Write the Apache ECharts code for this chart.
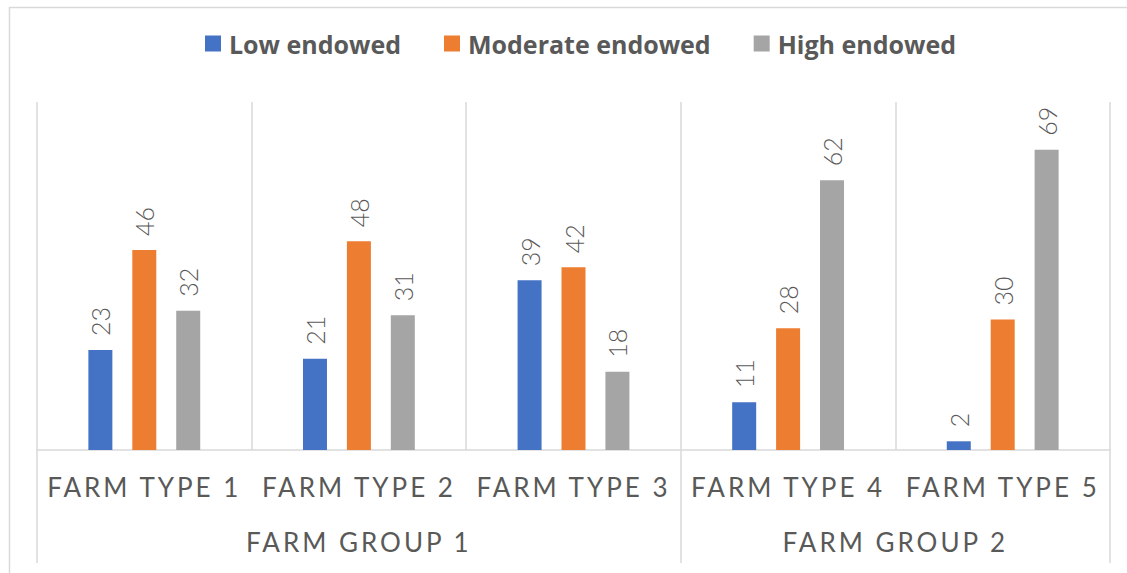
<!DOCTYPE html>
<html>
<head>
<meta charset="utf-8">
<script src="https://cdn.jsdelivr.net/npm/echarts@6/dist/echarts.min.js"></script>
<style>
  html, body { margin: 0; padding: 0; background: #ffffff; }
  #chart { width: 1127px; height: 573px; }
  /* spaced-out capitals on the category axis labels */
  #chart text[fill="#595958"] { letter-spacing: 3px; }
</style>
</head>
<body>
<div id="chart"></div>
<script>
// Farm types along the axis, and the farm groups they belong to
const farmTypes = ['FARM TYPE 1', 'FARM TYPE 2', 'FARM TYPE 3', 'FARM TYPE 4', 'FARM TYPE 5'];
const farmGroups = ['FARM GROUP 1', 'FARM GROUP 2'];
const typesPerGroup = [3, 2];

// Share of households per endowment class (%)
const lowEndowed = [23, 21, 39, 11, 2];
const moderateEndowed = [46, 48, 42, 28, 30];
const highEndowed = [32, 31, 18, 62, 69];

const seriesNames = ['Low endowed', 'Moderate endowed', 'High endowed'];
const seriesColors = ['#4472C4', '#ED7D31', '#A5A5A5'];

const gridLine = '#d9d9d9';
const textColor = '#595959';

// group boundaries and centres in "type" units along the axis
const groupEdges = [0];
typesPerGroup.forEach((n, i) => groupEdges.push(groupEdges[i] + n));
const groupCentres = typesPerGroup.map((n, i) => groupEdges[i] + n / 2);

const chart = echarts.init(document.getElementById('chart'), null, { renderer: 'svg' });

function barSeries(name, values, color) {
  return {
    name: name,
    type: 'bar',
    xAxisIndex: 0,
    yAxisIndex: 0,
    data: values,
    barWidth: 24,
    barGap: '83%',
    itemStyle: { color: color },
    label: {
      show: true,
      position: 'top',
      rotate: 90,
      align: 'left',
      verticalAlign: 'middle',
      distance: 14,
      color: textColor,
      fontFamily: 'Lato',
      fontWeight: 300,
      fontSize: 25
    }
  };
}

chart.setOption({
  animation: false,
  backgroundColor: '#ffffff',
  graphic: [{
    type: 'rect',
    left: 7,
    top: 5,
    shape: { width: 1300, height: 700 },
    style: { fill: 'none', stroke: gridLine, lineWidth: 1.5 },
    silent: true
  }],
  legend: {
    data: seriesNames,
    left: 205,
    top: 31,
    padding: 0,
    icon: 'rect',
    itemWidth: 16,
    itemHeight: 16,
    itemGap: 43,
    textStyle: {
      color: textColor,
      fontFamily: 'Open Sans',
      fontWeight: 'bold',
      fontSize: 25,
      padding: [0, 0, 0, 3]
    }
  },
  grid: { left: 37, right: 17, top: 102, bottom: 123, containLabel: false },
  xAxis: [{
    type: 'category',
    data: farmTypes,
    boundaryGap: true,
    axisLine: { show: true, lineStyle: { color: gridLine, width: 1.5 } },
    axisTick: {
      show: true,
      inside: true,
      interval: 0,
      length: 348,
      lineStyle: { color: gridLine, width: 1.5 }
    },
    splitLine: { show: false },
    axisLabel: {
      interval: 0,
      margin: 24,
      color: '#595958',
      fontFamily: 'Lato',
      fontSize: 26
    }
  }, {
    type: 'value',
    min: 0,
    max: farmTypes.length,
    position: 'bottom',
    axisLine: { show: false },
    splitLine: { show: false },
    axisTick: {
      show: true,
      customValues: groupEdges,
      length: 113,
      lineStyle: { color: gridLine, width: 1.5 }
    },
    axisLabel: {
      customValues: groupCentres,
      formatter: function (v) { return farmGroups[groupCentres.indexOf(v)] || ''; },
      margin: 79,
      color: '#595958',
      fontFamily: 'Lato',
      fontSize: 26
    }
  }],
  yAxis: {
    type: 'value',
    min: 0,
    max: 80,
    show: false,
    splitLine: { show: false }
  },
  series: [
    barSeries(seriesNames[0], lowEndowed, seriesColors[0]),
    barSeries(seriesNames[1], moderateEndowed, seriesColors[1]),
    barSeries(seriesNames[2], highEndowed, seriesColors[2])
  ]
});
</script>
</body>
</html>
